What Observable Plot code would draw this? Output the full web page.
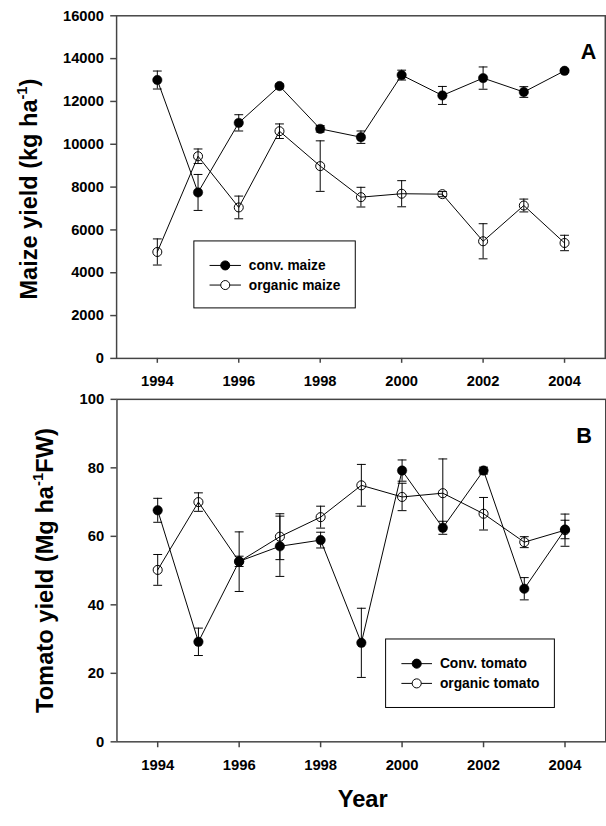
<!DOCTYPE html>
<html>
<head>
<meta charset="utf-8">
<script src="https://cdn.jsdelivr.net/npm/d3@7"></script>
<script src="https://cdn.jsdelivr.net/npm/@observablehq/plot@0.6"></script>
<style>
  html, body { margin: 0; padding: 0; background: #fff; }
  #c { position: relative; width: 606px; height: 826px; overflow: hidden; background: #fff; }
  #c svg { position: absolute; left: 0; overflow: visible; }
</style>
</head>
<body>
<div id="c"></div>
<script>
// ---------- data ----------
const years = [1994, 1995, 1996, 1997, 1998, 1999, 2000, 2001, 2002, 2003, 2004];
const yearTicks = [1994, 1996, 1998, 2000, 2002, 2004];

const convMaize      = [13000, 7750, 11000, 12720, 10720, 10330, 13230, 12280, 13090, 12440, 13430];
const convMaizeErr   = [420, 840, 380, 100, 150, 290, 230, 420, 520, 250, 80];
const organicMaize   = [4970, 9440, 7050, 10610, 8980, 7530, 7690, 7670, 5470, 7140, 5390];
const organicMaizeErr= [610, 340, 530, 340, 1180, 460, 610, 120, 820, 300, 360];
const maizeTicks     = [0, 2000, 4000, 6000, 8000, 10000, 12000, 14000, 16000];

const convTomato      = [67.6, 29.2, 52.7, 57.1, 58.9, 28.9, 79.2, 62.5, 79.2, 44.7, 62.0];
const convTomatoErr   = [3.5, 4.0, 1.5, 8.8, 2.3, 10.1, 3.1, 1.9, 1.0, 3.25, 2.7];
const organicTomato   = [50.2, 70.0, 52.6, 59.9, 65.6, 74.9, 71.5, 72.6, 66.6, 58.3, 61.8];
const organicTomatoErr= [4.5, 2.7, 8.7, 6.7, 3.2, 6.1, 4.0, 10.0, 4.75, 1.6, 4.7];
const tomatoTicks     = [0, 20, 40, 60, 80, 100];

const maizeSeries  = ["conv. maize", "organic maize"];
const tomatoSeries = ["Conv. tomato", "organic tomato"];

// ---------- helpers ----------
const rows = (vals, errs) => years.map((y, i) => ({year: y, v: vals[i], e: errs[i]}));
const FONT = "'Liberation Sans', Arial, Helvetica, sans-serif";
const AXIS = "#444";

const capSymbol = {draw(ctx) { ctx.moveTo(-4.5, 0); ctx.lineTo(4.5, 0); }};

function seriesMarks(data, filled) {
  return [
    Plot.line(data, {x: "year", y: "v", stroke: "black", strokeWidth: 1}),
    Plot.ruleX(data, {x: "year", y1: d => d.v - d.e, y2: d => d.v + d.e, stroke: "black", strokeWidth: 1}),
    Plot.dot(data, {x: "year", y: d => d.v + d.e, symbol: capSymbol, stroke: "black", strokeWidth: 1, r: 3}),
    Plot.dot(data, {x: "year", y: d => d.v - d.e, symbol: capSymbol, stroke: "black", strokeWidth: 1, r: 3}),
    filled
      ? Plot.dot(data, {x: "year", y: "v", r: 4.8, fill: "black", stroke: "black", strokeWidth: 0.5})
      : Plot.dot(data, {x: "year", y: "v", r: 4.6, fill: "none", stroke: "black", strokeWidth: 1})
  ];
}

// legend drawn relative to the plot frame
function legendMark(labels, box) {
  return (index, scales, values, dims) => {
    const g = d3.create("svg:g");
    const x0 = dims.marginLeft + box.left, y0 = dims.marginTop + box.top;
    g.append("rect").attr("x", x0).attr("y", y0).attr("width", box.width).attr("height", box.height)
      .attr("fill", "white").attr("stroke", "black").attr("stroke-width", 1);
    labels.forEach((lab, i) => {
      const yy = y0 + box.row0 + i * box.rowGap;
      g.append("line").attr("x1", x0 + box.line1).attr("x2", x0 + box.line2)
        .attr("y1", yy).attr("y2", yy).attr("stroke", "black").attr("stroke-width", 1);
      g.append("circle").attr("cx", x0 + (box.line1 + box.line2) / 2).attr("cy", yy).attr("r", 4.6)
        .attr("fill", i === 0 ? "black" : "white").attr("stroke", "black").attr("stroke-width", 1);
      g.append("text").attr("x", x0 + box.text).attr("y", yy).attr("dy", "0.35em")
        .attr("text-anchor", "start")
        .attr("font-size", 14).attr("font-weight", "bold").attr("font-family", FONT)
        .attr("fill", "black").text(lab);
    });
    return g.node();
  };
}

function fixSuperscript(svg, full, before, sup, after) {
  const NS = "http://www.w3.org/2000/svg";
  svg.querySelectorAll("text").forEach(t => {
    if (t.textContent === full) {
      t.textContent = "";
      const a = document.createElementNS(NS, "tspan"); a.textContent = before; t.appendChild(a);
      const b = document.createElementNS(NS, "tspan"); b.textContent = sup;
      b.setAttribute("font-size", "15"); b.setAttribute("dy", "-10"); t.appendChild(b);
      const c = document.createElementNS(NS, "tspan"); c.textContent = after;
      c.setAttribute("dy", "10"); t.appendChild(c);
    }
  });
}

const style = {fontFamily: FONT, fontSize: "15px", fontWeight: "bold", color: "black", background: "transparent", overflow: "visible"};

// ---------- panel A ----------
const svgA = Plot.plot({
  width: 618, height: 395,
  marginLeft: 118.4, marginRight: 1.24, marginTop: 15.6, marginBottom: 30,
  x: {domain: [1993, 2005]},
  y: {domain: [0, 16000]},
  style,
  marks: [
    Plot.axisY(maizeTicks, {tickSize: 6, tickPadding: 7, tickFormat: d => String(d), stroke: AXIS, strokeWidth: 1.5, label: null}),
    Plot.axisX(yearTicks, {tickSize: 5, tickPadding: 12.6, tickFormat: d => String(d), stroke: AXIS, strokeWidth: 1.5, label: null}),
    Plot.frame({stroke: AXIS, strokeWidth: 1.5}),
    ...seriesMarks(rows(convMaize, convMaizeErr), true),
    ...seriesMarks(rows(organicMaize, organicMaizeErr), false),
    legendMark(maizeSeries, {left: 79.3, top: 230.1, width: 164.6, height: 68.3, row0: 25, rowGap: 20, line1: 16, line2: 48, text: 56}),
    Plot.text(["A"], {text: d => d, frameAnchor: "top-left", dx: 473.3, dy: 28.1, textAnchor: "start", fontSize: 22, fontWeight: "bold"}),
    Plot.text(["Maize yield (kg ha-1)"], {text: d => d, frameAnchor: "left", rotate: -90, dx: -88.8, dy: 2, textAnchor: "middle", fontSize: 24, fontWeight: "bold"})
  ]
});
svgA.style.top = "0px";
fixSuperscript(svgA, "Maize yield (kg ha-1)", "Maize yield (kg ha", "-1", ")");

// ---------- panel B ----------
const svgB = Plot.plot({
  width: 614, height: 438,
  marginLeft: 118, marginRight: 0.76, marginTop: 11, marginBottom: 80,
  x: {domain: [1993, 2005]},
  y: {domain: [0, 100]},
  style,
  marks: [
    Plot.axisY(tomatoTicks, {tickSize: 6, tickPadding: 7, tickFormat: d => String(d), stroke: AXIS, strokeWidth: 1.5, label: null}),
    Plot.axisX(yearTicks, {tickSize: 6, tickPadding: 11.6, tickFormat: d => String(d), stroke: AXIS, strokeWidth: 1.5, label: null}),
    Plot.frame({stroke: AXIS, strokeWidth: 1.5}),
    ...seriesMarks(rows(convTomato, convTomatoErr), true),
    ...seriesMarks(rows(organicTomato, organicTomatoErr), false),
    legendMark(tomatoSeries, {left: 272.7, top: 243.3, width: 171, height: 69.4, row0: 25, rowGap: 20, line1: 16, line2: 47, text: 55}),
    Plot.text(["B"], {text: d => d, frameAnchor: "top-left", dx: 465.3, dy: 29, textAnchor: "start", fontSize: 22, fontWeight: "bold"}),
    Plot.text(["Tomato yield (Mg ha-1FW)"], {text: d => d, frameAnchor: "left", rotate: -90, dx: -72.7, dy: 0, textAnchor: "middle", fontSize: 24, fontWeight: "bold"}),
    Plot.text(["Year"], {text: d => d, frameAnchor: "bottom", dx: 1.4, dy: 66.3, textAnchor: "middle", fontSize: 24, fontWeight: "bold"})
  ]
});
svgB.style.top = "388px";
fixSuperscript(svgB, "Tomato yield (Mg ha-1FW)", "Tomato yield (Mg ha", "-1", "FW)");

const c = document.getElementById("c");
c.appendChild(svgA);
c.appendChild(svgB);
</script>
</body>
</html>
